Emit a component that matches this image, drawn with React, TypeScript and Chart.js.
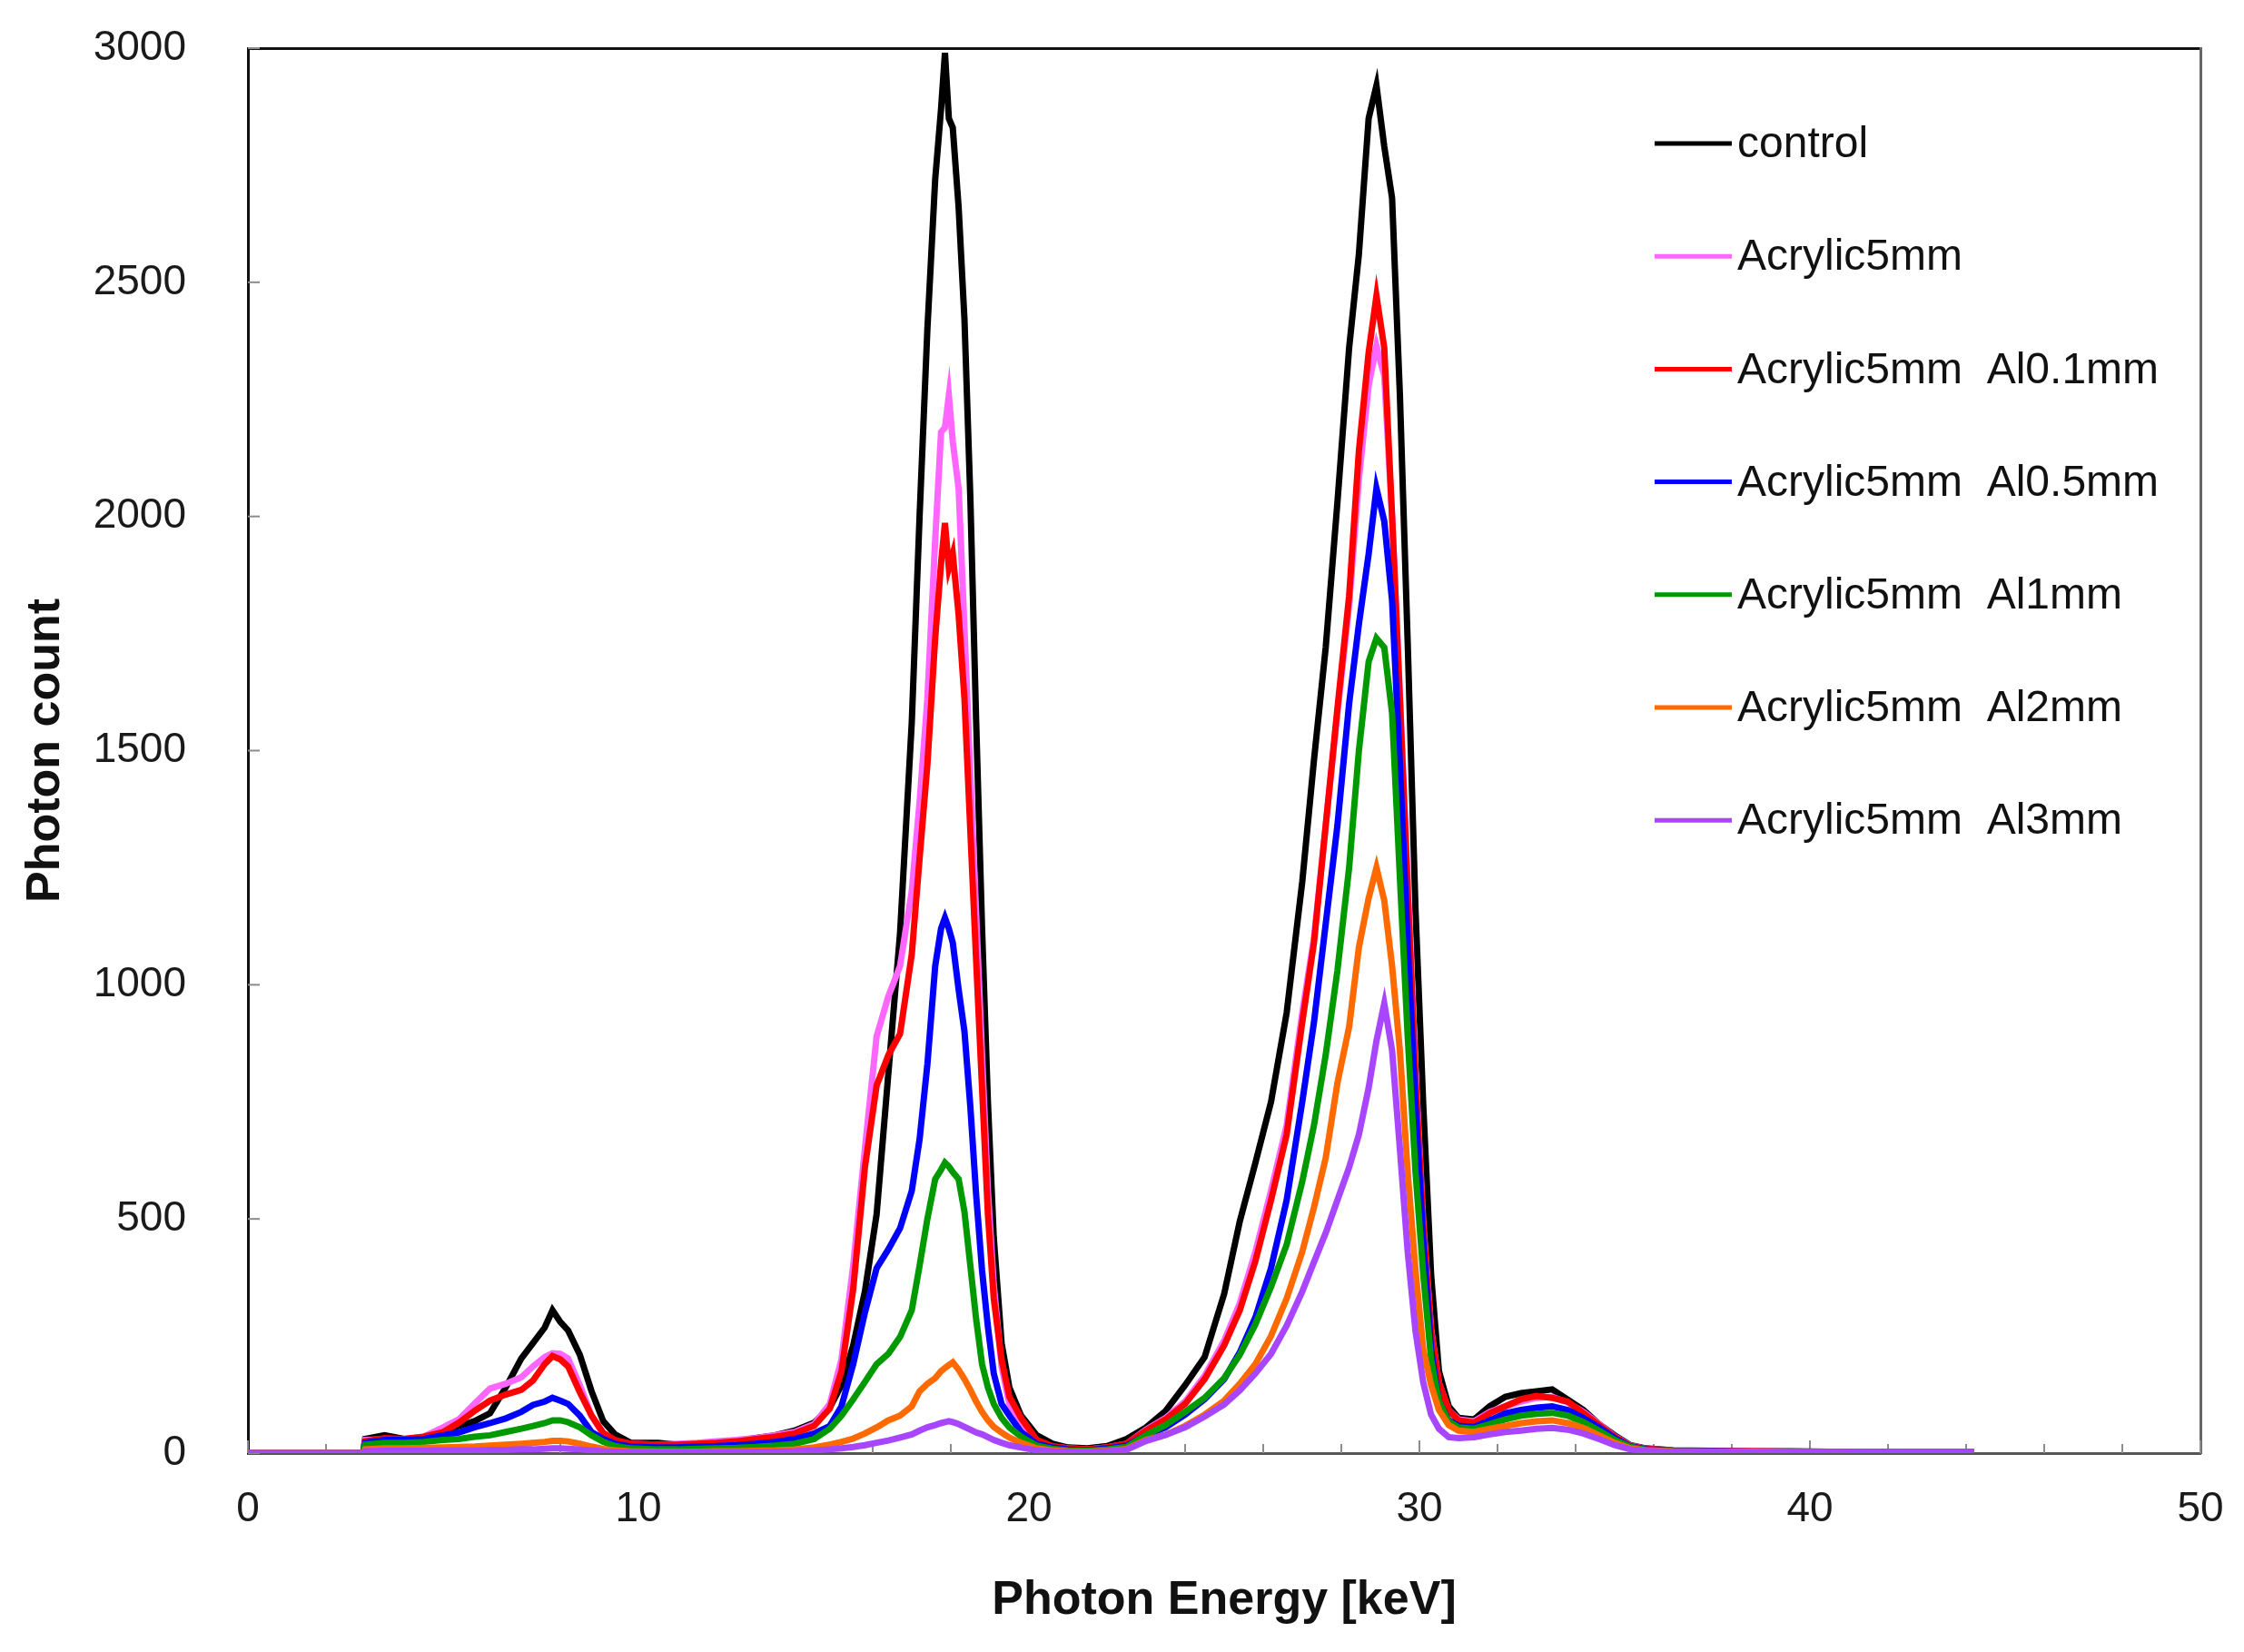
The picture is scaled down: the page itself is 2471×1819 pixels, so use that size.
import React, { useEffect, useRef } from 'react';
import Chart from 'chart.js/auto';

// photon energy grid [keV], shared by every spectrum
const energy = [
  0, 2.95, 3.0, 3.5, 4.0, 4.5, 5.0, 5.4, 5.8, 6.2, 6.6, 7.0, 7.3, 7.6, 7.8, 8.0, 8.2, 8.5, 8.8, 9.1, 9.4, 9.8,
  10.5, 11, 11.5, 12, 12.5, 13, 13.5, 14, 14.5, 14.9,
  15.2, 15.5, 15.8, 16.1, 16.4, 16.7, 17.0, 17.2, 17.4, 17.6,
  17.75, 17.85, 17.95, 18.05, 18.2, 18.35, 18.5, 18.65, 18.8, 18.95,
  19.1, 19.3, 19.5, 19.8, 20.2, 20.6, 21, 21.5, 22, 22.5,
  23, 23.5, 24, 24.5, 25, 25.4, 25.8, 26.2, 26.6, 27.0,
  27.3, 27.6, 27.9, 28.2, 28.45, 28.7, 28.9, 29.1, 29.3, 29.5,
  29.7, 29.9, 30.1, 30.3, 30.5, 30.75, 31.0, 31.4, 31.8, 32.2,
  32.6, 33.0, 33.4, 33.8, 34.2, 34.6, 35.0, 35.4, 35.8, 36.5,
  37.5, 38.5, 39.5, 40.5, 41.5, 42.5, 43.5, 44.2,
];

const control = [
  0, 0, 30, 38, 30, 32, 45, 58, 68, 85, 140, 202, 235, 268, 305, 280, 262, 210, 132, 68, 40, 22,
  22, 18, 20, 24, 26, 32, 38, 48, 65, 97,
  145, 230, 345, 510, 810, 1110, 1560, 2000, 2400, 2720,
  2870, 2990, 2850, 2830, 2660, 2420, 2040, 1560, 1120, 750,
  460, 235, 140, 80, 38, 20, 12, 10, 15, 30,
  55, 90, 145, 205, 340, 495, 620, 750, 940, 1220,
  1480, 1720, 2030, 2360, 2560, 2850, 2920, 2790, 2680, 2260,
  1730, 1160, 740, 380, 175, 100, 75, 72, 100, 120,
  128, 132, 136, 114, 92, 62, 38, 17, 10, 6,
  5, 4, 4, 3, 3, 2, 2, 2,
];

const acrylic5 = [
  0, 0, 28, 30, 30, 35, 55, 72, 105, 138, 148, 162, 185, 205, 213, 212, 202, 145, 80, 40, 25, 20,
  18, 20, 22, 25, 28, 32, 38, 45, 62, 105,
  200, 400, 650, 890, 975, 1040, 1200, 1390, 1610, 1950,
  2180, 2190, 2258, 2160, 2060, 1760, 1450, 1150, 850, 560,
  360, 185, 105, 58, 26, 14, 10, 8, 12, 20,
  50, 75, 110, 165, 240, 320, 430, 560, 700, 940,
  1100, 1340, 1580, 1810, 2080, 2280, 2364, 2300, 2000, 1620,
  1220, 820, 490, 265, 150, 92, 72, 68, 88, 100,
  110, 118, 120, 108, 88, 62, 36, 16, 9, 5,
  4, 4, 3, 3, 3, 2, 2, 2,
];

const al01 = [
  0, 0, 25, 32, 30, 35, 45, 65, 90, 112, 125, 135, 155, 190, 207, 200, 185, 130, 80, 43, 28, 20,
  18, 18, 20, 22, 25, 30, 35, 42, 58, 95,
  175, 350, 610, 785, 850, 895, 1065, 1270, 1470, 1740,
  1900, 1986, 1890, 1920, 1790, 1610, 1330, 1050, 780, 510,
  330, 200, 120, 75, 28, 15, 10, 8, 12, 20,
  48, 72, 105, 158, 230, 305, 410, 540, 680, 920,
  1090, 1340, 1590, 1830, 2140, 2350, 2471, 2360, 2000, 1610,
  1200, 800, 480, 260, 150, 92, 70, 65, 85, 100,
  115, 122, 118, 110, 85, 60, 35, 15, 9, 5,
  4, 4, 3, 3, 3, 2, 2, 2,
];

const al05 = [
  0, 0, 22, 28, 28, 30, 38, 44, 55, 64, 74, 88, 103, 110, 118, 112, 105, 80, 45, 30, 20, 14,
  12, 12, 14, 15, 17, 20, 24, 30, 42, 58,
  100, 190, 300, 395, 435, 480, 560, 670, 830, 1040,
  1120, 1143, 1120, 1090, 990, 900, 740, 550, 390, 270,
  170, 105, 80, 45, 20, 12, 8, 6, 10, 16,
  38, 55, 82, 115, 158, 215, 290, 395, 540, 750,
  920, 1130, 1340, 1600, 1770, 1920, 2060, 1990, 1820, 1470,
  1090, 740, 450, 220, 110, 70, 58, 56, 70, 85,
  92, 97, 100, 92, 75, 55, 32, 14, 8, 5,
  4, 3, 3, 3, 2, 2, 2, 2,
];

const al1 = [
  0, 0, 18, 22, 22, 24, 28, 30, 35, 38, 45, 52, 58, 64, 70, 70, 66, 55, 38, 24, 15, 10,
  8, 8, 9, 10, 11, 13, 16, 20, 30, 52,
  80, 115, 152, 190, 212, 248, 305, 400, 500, 585,
  605, 620, 612, 600, 585, 515, 400, 285, 190, 140,
  105, 75, 55, 35, 16, 9, 6, 5, 8, 13,
  38, 60, 88, 118, 160, 210, 275, 355, 445, 580,
  700, 850, 1030, 1250, 1500, 1690, 1740, 1720, 1580, 1230,
  890, 600, 380, 200, 110, 68, 55, 52, 62, 72,
  80, 84, 86, 80, 66, 48, 28, 13, 7, 4,
  3, 3, 3, 2, 2, 2, 2, 2,
];

const al2 = [
  0, 0, 8, 10, 10, 11, 12, 13, 14, 16, 18, 20, 22, 24, 26, 26, 25, 20, 14, 9, 6, 4,
  3, 3, 3, 4, 4, 5, 6, 8, 12, 18,
  24, 31, 42, 55, 70, 80, 100, 132, 148, 160,
  175, 182, 188, 194, 178, 158, 135, 110, 88, 70,
  56, 44, 33, 22, 10, 6, 4, 3, 5, 9,
  28, 39, 58, 82, 112, 148, 190, 250, 330, 430,
  525, 630, 790, 910, 1080, 1185, 1250, 1180, 1040, 860,
  600, 390, 220, 145, 92, 60, 48, 45, 52, 58,
  64, 68, 70, 64, 54, 38, 22, 10, 6, 4,
  3, 3, 2, 2, 2, 2, 2, 2,
];

const al3 = [
  0, 0, 4, 5, 5, 5, 6, 6, 6, 7, 7, 8, 8, 9, 10, 10, 9, 8, 6, 4, 3, 2,
  2, 2, 2, 2, 2, 3, 3, 4, 6, 8,
  10, 13, 17, 22, 27, 33, 40, 48, 55, 60,
  64, 66, 68, 66, 62, 56, 50, 44, 40, 34,
  28, 22, 17, 12, 6, 4, 3, 2, 4, 7,
  26, 39, 55, 78, 104, 134, 170, 212, 272, 345,
  408, 470, 540, 610, 680, 780, 880, 960, 860, 650,
  430, 260, 150, 82, 52, 34, 32, 34, 40, 45,
  48, 52, 54, 50, 42, 30, 17, 8, 5, 3,
  3, 2, 2, 2, 2, 2, 2, 2,
];

const seriesLabels = [
  'control',
  'Acrylic5mm',
  'Acrylic5mm  Al0.1mm',
  'Acrylic5mm  Al0.5mm',
  'Acrylic5mm  Al1mm',
  'Acrylic5mm  Al2mm',
  'Acrylic5mm  Al3mm',
];
const seriesValues = [control, acrylic5, al01, al05, al1, al2, al3];
const seriesColors = ['#000000', '#FF66FF', '#FF0000', '#0000FF', '#009A00', '#FF6A00', '#A845FF'];

const FONT = '"Liberation Sans", Arial, sans-serif';

// short tick marks pointing into the plot, like the original spreadsheet chart
const innerTicks = {
  id: 'innerTicks',
  beforeDatasetsDraw(chart: any) {
    const { ctx, chartArea, scales } = chart;
    ctx.save();
    ctx.strokeStyle = '#8c8c8c';
    ctx.lineWidth = 2;
    scales.x.ticks.forEach((t: any) => {
      const px = scales.x.getPixelForValue(t.value);
      const len = t.value % 10 === 0 ? 14 : 10;
      ctx.beginPath();
      ctx.moveTo(px, chartArea.bottom);
      ctx.lineTo(px, chartArea.bottom - len);
      ctx.stroke();
    });
    scales.y.ticks.forEach((t: any) => {
      const py = scales.y.getPixelForValue(t.value);
      ctx.beginPath();
      ctx.moveTo(chartArea.left, py);
      ctx.lineTo(chartArea.left + 13, py);
      ctx.stroke();
    });
    ctx.restore();
  },
};

// legend drawn inside the plot, one entry per row
const insideLegend = {
  id: 'insideLegend',
  afterDraw(chart: any) {
    const { ctx, chartArea } = chart;
    const x0 = chartArea.left + 1549;
    ctx.save();
    ctx.font = `48px ${FONT}`;
    ctx.textBaseline = 'middle';
    chart.data.datasets.forEach((ds: any, i: number) => {
      const y = chartArea.top + 105 + i * 124.2;
      ctx.strokeStyle = ds.borderColor;
      ctx.lineWidth = 5;
      ctx.beginPath();
      ctx.moveTo(x0, y);
      ctx.lineTo(x0 + 85, y);
      ctx.stroke();
      ctx.fillStyle = '#111111';
      ctx.fillText(ds.label, x0 + 91, y + 2);
    });
    ctx.restore();
  },
};

const App: React.FC = () => {
  const chartRef = useRef<HTMLCanvasElement>(null);
  const chartInstance = useRef<Chart | null>(null);

  useEffect(() => {
    document.body.style.margin = '0';
    if (!chartRef.current) return;

    const datasets = seriesLabels.map((label, i) => ({
      label,
      data: seriesValues[i].map((v, j) => ({ x: energy[j], y: v })),
      borderColor: seriesColors[i],
      backgroundColor: seriesColors[i],
      borderWidth: 7,
      pointRadius: 0,
      tension: 0,
      fill: false,
      order: seriesLabels.length - i, // later series on top
    }));

    if (chartInstance.current) {
      chartInstance.current.destroy();
    }

    chartInstance.current = new Chart(chartRef.current, {
      type: 'line',
      data: { datasets },
      plugins: [innerTicks, insideLegend],
      options: {
        animation: false,
        responsive: true,
        maintainAspectRatio: false,
        layout: { padding: { top: 53, right: 48, bottom: 0, left: 0 } },
        plugins: {
          legend: { display: false },
          tooltip: { enabled: false },
        },
        scales: {
          x: {
            type: 'linear',
            position: 'bottom',
            min: 0,
            max: 50,
            afterFit: (s: any) => {
              s.height = 219;
              s.paddingLeft = 0;
              s.paddingRight = 0;
            },
            grid: { display: false },
            border: { display: true, color: '#555555', width: 3 },
            ticks: {
              stepSize: 2,
              autoSkip: false,
              maxRotation: 0,
              padding: 27,
              color: '#1a1a1a',
              font: { size: 46, family: FONT },
              callback: (v: any) => (Number(v) % 10 === 0 ? String(v) : ''),
            },
            title: {
              display: true,
              text: 'Photon Energy [keV]',
              color: '#111111',
              font: { size: 52, weight: 'bold', family: FONT },
              padding: { top: 0, bottom: 25 },
            },
          },
          y: {
            type: 'linear',
            position: 'left',
            min: 0,
            max: 3000,
            afterFit: (s: any) => {
              s.width = 273;
              s.paddingTop = 0;
              s.paddingBottom = 0;
            },
            grid: { display: false },
            border: { display: true, color: '#111111', width: 3 },
            ticks: {
              stepSize: 500,
              padding: 60,
              color: '#1a1a1a',
              font: { size: 46, family: FONT },
              callback: (v: any) => String(v),
            },
            title: {
              display: true,
              text: 'Photon count',
              color: '#111111',
              font: { size: 52, weight: 'bold', family: FONT },
              padding: { top: 19, bottom: 0 },
            },
          },
          x2: {
            type: 'linear',
            position: 'top',
            min: 0,
            max: 50,
            afterFit: (s: any) => {
              s.height = 0;
            },
            grid: { display: false },
            border: { display: true, color: '#111111', width: 3 },
            ticks: { display: false },
          },
          y2: {
            type: 'linear',
            position: 'right',
            min: 0,
            max: 3000,
            afterFit: (s: any) => {
              s.width = 0;
            },
            grid: { display: false },
            border: { display: true, color: '#666666', width: 3 },
            ticks: { display: false },
          },
        },
      },
    });

    return () => {
      if (chartInstance.current) {
        chartInstance.current.destroy();
        chartInstance.current = null;
      }
    };
  }, []);

  return (
    <div style={{ position: 'relative', width: 2471, height: 1819, background: '#ffffff' }}>
      <canvas ref={chartRef} />
    </div>
  );
};

export default App;
